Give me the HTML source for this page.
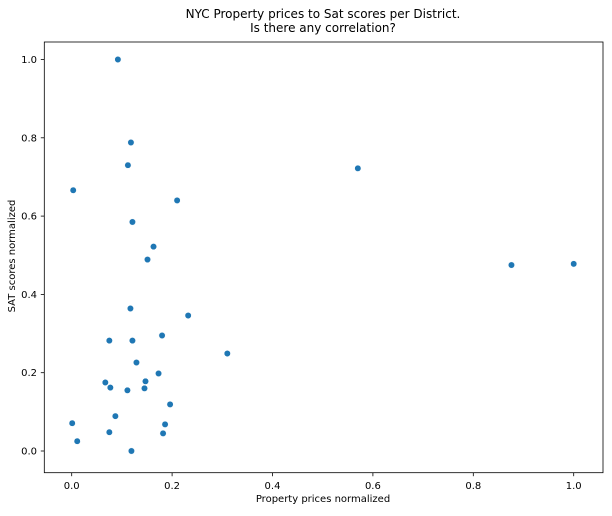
<!DOCTYPE html>
<html><head><meta charset="utf-8"><style>
body{margin:0;background:#fff;}
svg text{font-family:"DejaVu Sans","Liberation Sans",sans-serif;fill:#000;}
</style></head><body>
<svg id="chart" width="612" height="511" xmlns="http://www.w3.org/2000/svg">
<text x="323" y="18" font-size="12" text-anchor="middle">NYC Property prices to Sat scores per District.</text>
<text x="323" y="32" font-size="12" text-anchor="middle">Is there any correlation?</text>
<rect x="44.3" y="42" width="558.7" height="430.7" fill="none" stroke="#000" stroke-width="0.8"/>
<g id="xt"></g><g id="yt"></g><g id="pts"></g>
<text x="323" y="502" font-size="10" text-anchor="middle">Property prices normalized</text>
<text x="15" y="256" font-size="10" text-anchor="middle" transform="rotate(-90 15 256)">SAT scores normalized</text>
</svg>
<script>
const xTicks=[0,0.2,0.4,0.6,0.8,1.0];
const yTicks=[0,0.2,0.4,0.6,0.8,1.0];
const xTickLabels=["0.0","0.2","0.4","0.6","0.8","1.0"];
const yTickLabels=["0.0","0.2","0.4","0.6","0.8","1.0"];
const propertyPrices=[0.092,0.118,0.112,0.003,0.21,0.57,0.876,1.0,0.121,0.163,0.151,0.117,0.232,0.180,0.075,0.121,0.310,0.129,0.173,0.067,0.077,0.147,0.145,0.111,0.196,0.087,0.001,0.186,0.075,0.182,0.011,0.119];
const satScores=[1.0,0.788,0.730,0.666,0.640,0.722,0.475,0.478,0.585,0.522,0.489,0.364,0.346,0.295,0.282,0.282,0.249,0.226,0.198,0.175,0.162,0.178,0.160,0.155,0.119,0.089,0.071,0.068,0.048,0.045,0.025,0.0];
const NS="http://www.w3.org/2000/svg";
const xs=v=>71.7+v*502, ys=v=>451-v*391.5;
function mk(t,a){const e=document.createElementNS(NS,t);for(const k in a)e.setAttribute(k,a[k]);return e;}
const xt=document.getElementById('xt'),yt=document.getElementById('yt'),pts=document.getElementById('pts');
xTicks.forEach((v,i)=>{
 const l=mk('line',{x1:xs(v),x2:xs(v),y1:472.7,y2:476.2,stroke:'#000','stroke-width':0.8});
 
 
 xt.appendChild(l);
 const t=mk('text',{x:xs(v),y:489,'font-size':10,'text-anchor':'middle'});
 t.textContent=xTickLabels[i];
 
 
 xt.appendChild(t);
});
yTicks.forEach((v,i)=>{
 const l=mk('line',{x1:40.8,x2:44.3,y1:ys(v),y2:ys(v),stroke:'#000','stroke-width':0.8});
 
 
 yt.appendChild(l);
 const t=mk('text',{x:37,y:ys(v)+3.5,'font-size':10,'text-anchor':'end'});
 t.textContent=yTickLabels[i];
 
 
 yt.appendChild(t);
});
propertyPrices.forEach((v,i)=>{
 const c=mk('circle',{cx:xs(v),cy:ys(satScores[i]),r:3.2,fill:'#1f77b4',stroke:'#fff','stroke-width':0.5});
 
 
 pts.appendChild(c);
});
</script>
</body></html>
